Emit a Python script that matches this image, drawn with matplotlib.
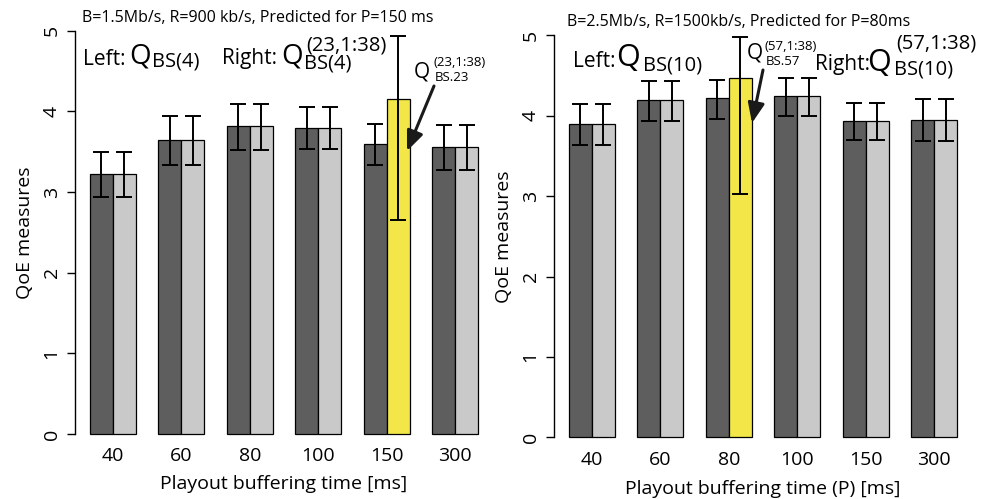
import matplotlib
matplotlib.use("Agg")
import matplotlib.pyplot as plt
from matplotlib.patches import FancyArrowPatch
import numpy as np

plt.rcParams['font.family'] = ['Open Sans', 'DejaVu Sans']

categories = ["40", "60", "80", "100", "150", "300"]

# Left panel
left_dark = [3.23, 3.64, 3.82, 3.80, 3.60, 3.56]
left_dark_lo = [2.94, 3.33, 3.52, 3.54, 3.33, 3.28]
left_dark_hi = [3.50, 3.94, 4.09, 4.05, 3.85, 3.83]
left_light = [3.23, 3.64, 3.82, 3.80, 4.15, 3.56]
left_light_lo = [2.94, 3.33, 3.52, 3.54, 2.65, 3.28]
left_light_hi = [3.50, 3.94, 4.09, 4.05, 4.94, 3.83]
left_highlight = 4  # index of predicted (yellow) bar

# Right panel
right_dark = [3.90, 4.20, 4.22, 4.25, 3.93, 3.95]
right_dark_lo = [3.64, 3.94, 3.96, 4.00, 3.70, 3.69]
right_dark_hi = [4.14, 4.43, 4.45, 4.47, 4.16, 4.21]
right_light = [3.90, 4.20, 4.47, 4.25, 3.93, 3.95]
right_light_lo = [3.64, 3.94, 3.03, 4.00, 3.70, 3.69]
right_light_hi = [4.14, 4.43, 4.98, 4.47, 4.16, 4.21]
right_highlight = 2

DARK = "#5e5e5e"
LIGHT = "#c9c9c9"
YELLOW = "#f2e648"

W, H = 988, 499
fig = plt.figure(figsize=(W / 100, H / 100), dpi=100)


def fx(x):
    return x / W


def fy(y):
    return 1 - y / H


def txt(x, y, s, size, **kw):
    fig.text(fx(x), fy(y), s, ha="left", va="baseline", fontsize=size, **kw)


def panel(rect, dark, dlo, dhi, light, llo, lhi, hl, xlabel, xpad, lpad):
    ax = fig.add_axes(rect)
    n = len(categories)
    xd = np.arange(n) * 3 + 1.5
    xl = xd + 1.0
    lcols = [YELLOW if i == hl else LIGHT for i in range(n)]
    ax.bar(xd, dark, width=1.0, color=DARK, edgecolor="black", linewidth=0.9, zorder=2)
    ax.bar(xl, light, width=1.0, color=lcols, edgecolor="black", linewidth=0.9, zorder=2)
    d = np.array(dark); l = np.array(light)
    ax.errorbar(xd, d, yerr=[d - np.array(dlo), np.array(dhi) - d], fmt="none",
                ecolor="black", elinewidth=1.4, capsize=6, capthick=1.4, zorder=3)
    ax.errorbar(xl, l, yerr=[l - np.array(llo), np.array(lhi) - l], fmt="none",
                ecolor="black", elinewidth=1.4, capsize=6, capthick=1.4, zorder=3)
    ax.set_xlim(0.32, 18.68)
    ax.set_ylim(-0.2, 5.2)
    for s in ["top", "right", "bottom"]:
        ax.spines[s].set_visible(False)
    ax.spines["left"].set_bounds(0, 5)
    ax.spines["left"].set_linewidth(1.0)
    ax.set_yticks([0, 1, 2, 3, 4, 5])
    ax.set_yticklabels(["0", "1", "2", "3", "4", "5"], rotation=90, va="center", fontsize=14)
    ax.tick_params(axis="y", length=6, width=1.0, pad=4)
    ax.set_xticks(xd + 0.5)
    ax.set_xticklabels(categories, fontsize=14)
    ax.tick_params(axis="x", length=0, pad=xpad)
    ax.set_xlabel(xlabel, fontsize=14, labelpad=lpad)
    ax.set_ylabel("QoE measures", fontsize=14, labelpad=6)
    return ax


axL = panel([fx(74.5), fy(450.1), fx(419), 0.8725],
            left_dark, left_dark_lo, left_dark_hi, left_light, left_light_lo, left_light_hi,
            left_highlight, "Playout buffering time [ms]", -2.0, 7)
axR = panel([fx(553.5), fy(453.4), fx(419), 0.870],
            right_dark, right_dark_lo, right_dark_hi, right_light, right_light_lo, right_light_hi,
            right_highlight, "Playout buffering time (P) [ms]", -2.0, 8)

# Titles
fig.text(fx(258), fy(18), "B=1.5Mb/s, R=900 kb/s, Predicted for P=150 ms",
         ha="center", va="center", fontsize=11.5)
fig.text(fx(739), fy(22), "B=2.5Mb/s, R=1500kb/s, Predicted for P=80ms",
         ha="center", va="center", fontsize=11.5)

# Left panel legend texts
txt(83, 65, "Left:", 15)
txt(129, 63, "Q", 20)
txt(152, 67, "BS(4)", 14.5)
txt(222, 64, "Right:", 15)
txt(281, 63, "Q", 20)
txt(306, 50, "(23,1:38)", 14.5)
txt(304, 68, "BS(4)", 14.5)
# annotation of the predicted bar
txt(414, 78, "Q", 15)
txt(433, 66, "(23,1:38)", 9.5)
txt(435, 81, "BS.23", 9.5)
fig.add_artist(FancyArrowPatch(
    (fx(434), fy(86)), (fx(407), fy(151)), transform=fig.transFigure,
    arrowstyle="-|>,head_length=12,head_width=5", mutation_scale=1,
    color="#1a1a1a", linewidth=2.2, shrinkA=0, shrinkB=0))

# Right panel legend texts
txt(573, 67, "Left:", 15)
txt(616, 66, "Q", 22)
txt(643, 70, "BS(10)", 14.5)
txt(815, 70, "Right:", 15)
txt(867, 71, "Q", 22)
txt(896, 49, "(57,1:38)", 14.5)
txt(894, 75, "BS(10)", 14.5)
# annotation of the predicted bar
txt(747, 59, "Q", 15)
txt(764, 50, "(57,1:38)", 9.5)
txt(766, 65, "BS.57", 9.5)
fig.add_artist(FancyArrowPatch(
    (fx(763), fy(70)), (fx(752), fy(123)), transform=fig.transFigure,
    arrowstyle="-|>,head_length=12,head_width=5", mutation_scale=1,
    color="#1a1a1a", linewidth=2.2, shrinkA=0, shrinkB=0))

fig.savefig("out.png", dpi=100)
